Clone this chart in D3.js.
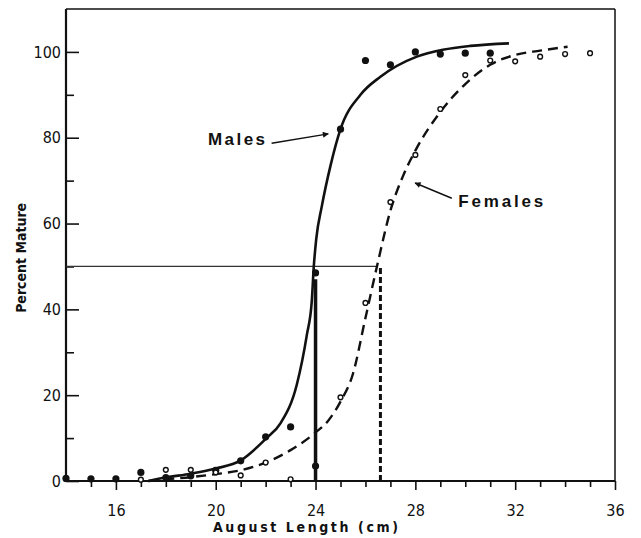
<!DOCTYPE html>
<html>
<head>
<meta charset="utf-8">
<script src="https://cdn.jsdelivr.net/npm/d3@7"></script>
<style>
  html, body { margin: 0; padding: 0; background: #fff; }
  svg { display: block; }
</style>
</head>
<body>
<div id="chart"></div>
<script>
// Percent mature vs August length, males and females

// observed points
const maleLength = [14, 15, 16, 17, 18, 19, 20, 21, 22, 23, 24, 24, 25, 26, 27, 28, 29, 30, 31];
const malePct = [0.6, 0.5, 0.5, 2, 0.8, 1.2, 2.5, 4.7, 10.3, 12.6, 48.5, 3.5, 82, 98, 97, 100, 99.5, 99.7, 99.7];

const femaleLength = [17, 18, 19, 20, 21, 22, 23, 25, 26, 27, 28, 29, 30, 31, 32, 33, 34, 35];
const femalePct = [0.3, 2.6, 2.6, 2, 1.3, 4.3, 0.4, 19.5, 41.5, 65, 76, 86.7, 94.6, 98, 97.8, 98.9, 99.5, 99.7];

// fitted curves
const maleCurveX = [17.3, 18, 19, 20, 21, 22, 22.6, 23.25, 23.65, 23.85, 23.93, 24.03, 24.25, 24.6, 25, 25.8, 26.6, 28.06, 29.1, 30.2, 31.75];
const maleCurveY = [0, 0.8, 1.7, 2.9, 4.8, 9.8, 13.5, 22.5, 34, 42, 50, 56.5, 64, 73.5, 82, 90, 94.2, 98.9, 100.5, 101.4, 102];

const femaleCurveX = [17.3, 18, 19, 20, 21, 22, 23, 24, 24.5, 25, 25.5, 26, 26.5, 27, 27.5, 28, 29, 30, 31, 32, 33, 34.1];
const femaleCurveY = [0, 0.4, 0.9, 1.6, 2.5, 4.3, 7.2, 11.3, 14, 18.5, 25, 38, 51, 63, 71, 77, 86, 92.5, 97, 99.3, 100.3, 101.2];

// 50% maturity markers
const male50 = 24, male50Top = 47;
const female50 = 26.6;
const halfLevel = 50, halfLineEnd = 26.45;

// axis ticks
const xTickLabels = [16, 20, 24, 28, 32, 36];
const xMinorTicks = [15, 17, 18, 19, 21, 22, 23, 25, 26, 27, 29, 30, 31, 33, 34, 35];
const yTickLabels = [0, 20, 40, 60, 80, 100];
const yMinorTicks = [10, 30, 50, 70, 90];

const W = 641, H = 538;
const svg = d3.select("#chart").append("svg")
    .attr("width", W)
    .attr("height", H);

const x = d3.scaleLinear().domain([14, 36]).range([66, 615]);
const y = d3.scaleLinear().domain([0, 110]).range([481, 9]);

const ink = "#111";
const tickFont = "'DejaVu Sans Condensed', 'DejaVu Sans', sans-serif";

svg.append("defs").append("marker")
    .attr("id", "arrow")
    .attr("viewBox", "0 0 10 10")
    .attr("refX", 9)
    .attr("refY", 5)
    .attr("markerWidth", 7)
    .attr("markerHeight", 6)
    .attr("markerUnits", "userSpaceOnUse")
    .attr("orient", "auto")
    .append("path")
    .attr("d", "M0,0 L10,5 L0,10 Z")
    .attr("fill", ink);

// Axes
const yAxis = svg.append("g")
    .attr("transform", `translate(${x(14)},0)`)
    .call(d3.axisLeft(y).tickValues(yTickLabels).tickSizeInner(-13).tickSizeOuter(0).tickPadding(5));
yAxis.select(".domain").remove();

const yMinor = svg.append("g")
    .attr("transform", `translate(${x(14)},0)`)
    .call(d3.axisLeft(y).tickValues(yMinorTicks).tickSizeInner(-8).tickSizeOuter(0).tickFormat(""));
yMinor.select(".domain").remove();

const xAxis = svg.append("g")
    .attr("transform", `translate(0,${y(0)})`)
    .call(d3.axisBottom(x).tickValues(xTickLabels).tickSizeInner(9).tickSizeOuter(0).tickPadding(15));
xAxis.select(".domain").remove();

const xMinor = svg.append("g")
    .attr("transform", `translate(0,${y(0)})`)
    .call(d3.axisBottom(x).tickValues(xMinorTicks).tickSizeInner(6).tickSizeOuter(0).tickFormat(""));
xMinor.select(".domain").remove();

svg.selectAll(".tick line").attr("stroke", ink).attr("stroke-width", 1.6);
svg.selectAll(".tick text")
    .attr("fill", ink)
    .style("font-family", tickFont)
    .style("font-size", "16px");

// frame
svg.append("line")
    .attr("x1", x(14)).attr("x2", x(36)).attr("y1", y(110)).attr("y2", y(110))
    .attr("stroke", ink).attr("stroke-width", 1.5);
svg.append("line")
    .attr("x1", x(36)).attr("x2", x(36)).attr("y1", y(110)).attr("y2", y(0))
    .attr("stroke", ink).attr("stroke-width", 1.5);
svg.append("line")
    .attr("x1", x(14)).attr("x2", x(14)).attr("y1", y(110)).attr("y2", y(0) + 1)
    .attr("stroke", ink).attr("stroke-width", 2.2);
svg.append("line")
    .attr("x1", x(14) - 1).attr("x2", x(36)).attr("y1", y(0)).attr("y2", y(0))
    .attr("stroke", ink).attr("stroke-width", 2.2);

// axis titles
svg.append("text")
    .attr("x", (x(14) + x(36)) / 2 - 35)
    .attr("y", 532)
    .attr("text-anchor", "middle")
    .attr("textLength", 185)
    .attr("lengthAdjust", "spacing")
    .style("font-family", tickFont)
    .style("font-size", "14px")
    .style("font-weight", "bold")
    .attr("fill", ink)
    .text("August Length (cm)");

svg.append("text")
    .attr("transform", `translate(26,${y(52)}) rotate(-90)`)
    .attr("text-anchor", "middle")
    .attr("textLength", 110)
    .attr("lengthAdjust", "spacing")
    .style("font-family", tickFont)
    .style("font-size", "14px")
    .style("font-weight", "bold")
    .attr("fill", ink)
    .text("Percent Mature");

// 50% reference lines
svg.append("line")
    .attr("x1", x(14)).attr("x2", x(halfLineEnd))
    .attr("y1", y(halfLevel)).attr("y2", y(halfLevel))
    .attr("stroke", "#333").attr("stroke-width", 1.2);

svg.append("line")
    .attr("x1", x(male50)).attr("x2", x(male50))
    .attr("y1", y(0)).attr("y2", y(male50Top))
    .attr("stroke", ink).attr("stroke-width", 3.5);

svg.append("line")
    .attr("x1", x(female50)).attr("x2", x(female50))
    .attr("y1", y(0)).attr("y2", y(halfLevel))
    .attr("stroke", ink).attr("stroke-width", 3)
    .attr("stroke-dasharray", "6,3");

// fitted curves
const line = d3.line()
    .x(d => x(d[0]))
    .y(d => y(d[1]))
    .curve(d3.curveMonotoneX);

svg.append("path")
    .datum(d3.zip(maleCurveX, maleCurveY))
    .attr("fill", "none")
    .attr("stroke", ink)
    .attr("stroke-width", 2.6)
    .attr("d", line);

svg.append("path")
    .datum(d3.zip(femaleCurveX, femaleCurveY))
    .attr("fill", "none")
    .attr("stroke", ink)
    .attr("stroke-width", 2.4)
    .attr("stroke-dasharray", "10,6")
    .attr("d", line);

// observed points
svg.selectAll(".male-dot")
    .data(d3.zip(maleLength, malePct))
    .enter().append("circle")
    .attr("class", "male-dot")
    .attr("cx", d => x(d[0]))
    .attr("cy", d => y(d[1]))
    .attr("r", 3.6)
    .attr("fill", ink);

svg.selectAll(".female-dot")
    .data(d3.zip(femaleLength, femalePct))
    .enter().append("circle")
    .attr("class", "female-dot")
    .attr("cx", d => x(d[0]))
    .attr("cy", d => y(d[1]))
    .attr("r", 2.4)
    .attr("fill", "#fff")
    .attr("stroke", ink)
    .attr("stroke-width", 1.4);

// labels with arrows
const labels = [
    { text: "Males", tx: 19.69, ty: 78.3, len: 57, ax1: 22.24, ay1: 78.7, ax2: 24.51, ay2: 80.9 },
    { text: "Females", tx: 29.72, ty: 63.85, len: 85, ax1: 29.46, ay1: 65.9, ax2: 27.99, ay2: 69.45 }
];

labels.forEach(l => {
    svg.append("text")
        .attr("x", x(l.tx))
        .attr("y", y(l.ty))
        .attr("textLength", l.len)
        .attr("lengthAdjust", "spacing")
        .style("font-family", "'Liberation Sans', Arial, sans-serif")
        .style("font-size", "17px")
        .style("font-weight", "bold")
        .attr("fill", ink)
        .text(l.text);

    svg.append("line")
        .attr("x1", x(l.ax1)).attr("y1", y(l.ay1))
        .attr("x2", x(l.ax2)).attr("y2", y(l.ay2))
        .attr("stroke", ink)
        .attr("stroke-width", 1.4)
        .attr("marker-end", "url(#arrow)");
});
</script>
</body>
</html>
